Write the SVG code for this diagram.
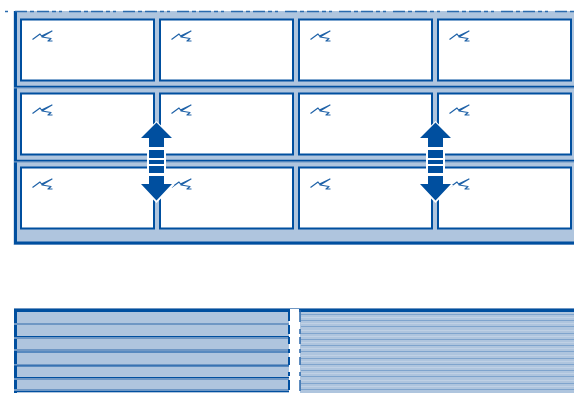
<svg xmlns="http://www.w3.org/2000/svg" width="574" height="393" viewBox="0 0 574 393">
<style>
.card{fill:#fff;stroke:#004f9f;stroke-width:2}
.sq{fill:none;stroke:#1f62a8;stroke-width:1.2;stroke-linejoin:round}
.b{stroke:#004f9f;fill:none}
.l{stroke:#6f97c4;fill:none}
.a{fill:#004f9f}
.h{fill:#fff}
</style>
<defs>
<g id="sq"><path class="sq" d="M32.500 39.500 L40 34 L41.500 36 L52 31 L42 37 L51 38.500 L48 41 L52.500 41"/></g>
<g id="dbl">
<rect class="h" x="-9.500" y="-15" width="19" height="30"/>
<path class="h" d="M0 -41 L18 -23 L-18 -23 Z"/>
<path class="h" d="M0 41 L18 23 L-18 23 Z"/>
<path class="a" d="M0 -39.500 L15.500 -24 L7.500 -24 L7.500 -15 L-7.500 -15 L-7.500 -24 L-15.500 -24 Z"/>
<path class="a" d="M0 38.500 L15.500 22 L7.500 22 L7.500 14 L-7.500 14 L-7.500 22 L-15.500 22 Z"/>
<rect class="a" x="-7.500" y="-12" width="15" height="8"/>
<rect class="a" x="-7.500" y="-2" width="15" height="4"/>
<rect class="a" x="-7.500" y="4" width="15" height="7"/>
</g>
</defs>
<g id="panel">
<rect x="13.500" y="11" width="560.500" height="234" fill="#afc5de"/>
<path class="b" d="M15.500 11V243H574" stroke-width="3"/>
<path class="l" d="M14 87.500H574M14 161.500H574" stroke-width="2"/>
<path class="b" d="M14 86.500H574M14 160.500H574" stroke-width="1.500"/>
<path d="M5 11.500H574" stroke="#2a6bae" stroke-width="1.500" fill="none" stroke-dasharray="3 7 12 3 4 3 12 3 4 3"/>
</g>
<g id="cards">
<g id="c11"><rect class="card" x="21" y="19.500" width="133" height="61"/><use href="#sq"/></g>
<g id="c12"><rect class="card" x="160" y="19.500" width="133" height="61"/><use href="#sq" x="139"/></g>
<g id="c13"><rect class="card" x="299" y="19.500" width="133" height="61"/><use href="#sq" x="278"/></g>
<g id="c14"><rect class="card" x="438" y="19.500" width="133" height="61"/><use href="#sq" x="417"/></g>
<g id="c21"><rect class="card" x="21" y="93.500" width="133" height="61"/><use href="#sq" y="74"/></g>
<g id="c22"><rect class="card" x="160" y="93.500" width="133" height="61"/><use href="#sq" x="139" y="74"/></g>
<g id="c23"><rect class="card" x="299" y="93.500" width="133" height="61"/><use href="#sq" x="278" y="74"/></g>
<g id="c24"><rect class="card" x="438" y="93.500" width="133" height="61"/><use href="#sq" x="417" y="74"/></g>
<g id="c31"><rect class="card" x="21" y="167.500" width="133" height="61"/><use href="#sq" y="148"/></g>
<g id="c32"><rect class="card" x="160" y="167.500" width="133" height="61"/><use href="#sq" x="139" y="148"/></g>
<g id="c33"><rect class="card" x="299" y="167.500" width="133" height="61"/><use href="#sq" x="278" y="148"/></g>
<g id="c34"><rect class="card" x="438" y="167.500" width="133" height="61"/><use href="#sq" x="417" y="148"/></g>
</g>
<g id="connectors">
<use href="#dbl" x="156.500" y="162"/>
<use href="#dbl" x="435.500" y="162"/>
</g>
<g id="lower-left">
<path class="l" d="M14 308.500H574" stroke-width="1"/>
<rect x="14" y="309" width="275" height="84" fill="#afc5de"/>
<path d="M14 310.500H290" class="b" stroke-width="3"/>
<path d="M15.500 309V393" class="b" stroke-width="3"/>
<path class="l" d="M14 324H289M14 338H289M14 350H289M14 365H289M14 379H289M14 390H289" stroke-width="2"/>
<path class="b" d="M14 336.500H289M14 352H289M14 366H289M14 377.500H289M14 391.500H289" stroke-width="1.200"/>
<path class="b" d="M289 311V321M289 325V334M289 337V344M289 349V353M289 357V365M289 372V376M289 380V390" stroke-width="2"/>
</g>
<g id="lower-right">
<rect x="300" y="309" width="274" height="84" fill="#afc5de"/>
<path d="M299 310.500H574" class="b" stroke-width="3"/>
<path stroke="#7fa4cd" stroke-width="1" fill="none" d="M301 314.500H574M301 320.500H574M301 326.500H574M301 333.500H574M301 339.500H574M301 345.500H574M301 351.500H574M301 358.500H574M301 364.500H574M301 370.500H574M301 376.500H574M301 383.500H574M301 389.500H574"/>
<path stroke="#fff" stroke-opacity=".22" stroke-width="1" fill="none" d="M301 317.500H574M301 323.500H574M301 330.500H574M301 336.500H574M301 342.500H574M301 348.500H574M301 355.500H574M301 361.500H574M301 367.500H574M301 373.500H574M301 380.500H574M301 386.500H574"/>
<path d="M300 310V322M300 329V334M300 337V344M300 349V353M300 357V365M300 372V376M300 380V391" stroke="#2a67ab" stroke-width="1.500" fill="none"/>
</g>
</svg>
